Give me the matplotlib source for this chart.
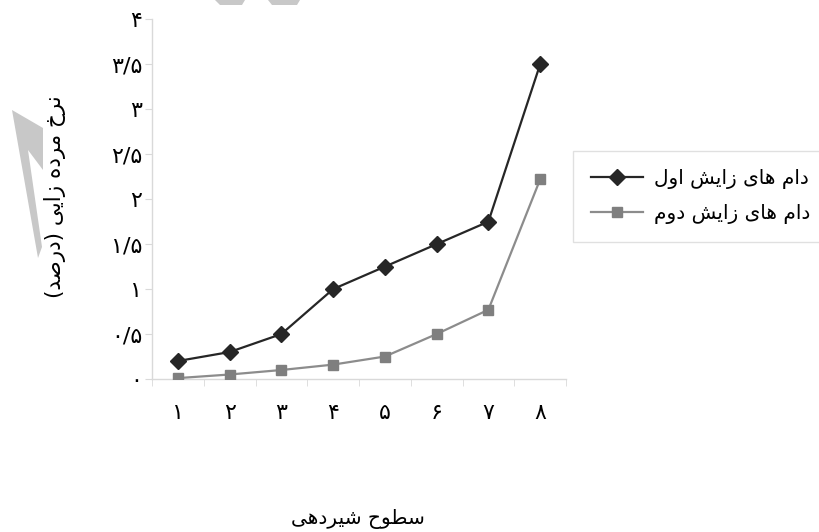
import numpy as np
import matplotlib
matplotlib.use("Agg")
import matplotlib.pyplot as plt
from matplotlib.patches import Polygon

plt.rcParams['font.family'] = ['DejaVu Sans']

# --- data ---
levels = [1, 2, 3, 4, 5, 6, 7, 8]
first_calving = [0.2, 0.3, 0.5, 1.0, 1.25, 1.5, 1.75, 3.5]
second_calving = [0.01, 0.05, 0.1, 0.16, 0.25, 0.5, 0.77, 2.22]
y_ticks = [0, 0.5, 1, 1.5, 2, 2.5, 3, 3.5, 4]

# Persian text written with presentation forms (logical order), reversed for display
label_first = "\uFEA9\uFE8D\uFEE1 \uFEEB\uFE8E\uFBFC \uFEAF\uFE8D\uFBFE\uFEB6 \uFE8D\uFEED\uFEDD"
label_second = "\uFEA9\uFE8D\uFEE1 \uFEEB\uFE8E\uFBFC \uFEAF\uFE8D\uFBFE\uFEB6 \uFEA9\uFEED\uFEE1"
y_title = "\uFEE7\uFEAE\uFEA5 \uFEE3\uFEAE\uFEA9\uFEE9 \uFEAF\uFE8D\uFBFE\uFBFD (\uFEA9\uFEAD\uFEBB\uFEAA)"
x_title = "\uFEB3\uFEC4\uFEEE\uFEA1 \uFEB7\uFBFF\uFEAE\uFEA9\uFEEB\uFBFD"

FA_DIGITS = str.maketrans("0123456789.", "۰۱۲۳۴۵۶۷۸۹/")
W, H = 819, 532


def rtl(s):
    """Reverse shaped text for right-to-left display, mirroring brackets."""
    return s[::-1].translate(str.maketrans("()", ")("))


def fa_num(v):
    return ("%g" % v).translate(FA_DIGITS)


def px(x, y):
    # pixel position (from top-left) -> figure fraction
    return (x / W, 1 - y / H)


fig = plt.figure(figsize=(W / 100, H / 100), dpi=100)
ax = fig.add_axes([152 / W, 1 - 379 / H, (566 - 152) / W, (379 - 19.4) / H])

ax.plot(levels, first_calving, color="#262626", lw=1.6, marker="D", ms=8,
        mfc="#262626", mec="#262626", label=rtl(label_first), zorder=3)
ax.plot(levels, second_calving, color="#8c8c8c", lw=1.6, marker="s", ms=7.5,
        mfc="#7f7f7f", mec="#7f7f7f", label=rtl(label_second), zorder=3)

ax.set_xlim(0.5, 8.5)
ax.set_ylim(0, 4)

axis_gray = "#d9d9d9"
for side in ["top", "right"]:
    ax.spines[side].set_visible(False)
for side in ["left", "bottom"]:
    ax.spines[side].set_color(axis_gray)
    ax.spines[side].set_linewidth(1.0)

ax.set_yticks(y_ticks)
ax.set_yticklabels([fa_num(v) for v in y_ticks], fontsize=16)
ax.tick_params(axis="y", length=5, color=axis_gray, pad=2)

ax.set_xticks(levels)
ax.set_xticklabels([fa_num(v) for v in levels], fontsize=16)
ax.set_xticks(np.arange(0.5, 9.0, 1.0), minor=True)
ax.tick_params(axis="x", which="major", length=0, pad=17)
ax.tick_params(axis="x", which="minor", length=5, color=axis_gray)

fig.text(*px(55, 197), rtl(y_title), rotation=90, fontsize=15.5,
         ha="center", va="center")
fig.text(*px(358, 519), rtl(x_title), fontsize=14.5,
         ha="center", va="center")

leg = fig.legend(loc="upper left", bbox_to_anchor=px(573, 151),
                 fontsize=14.5, frameon=True, fancybox=False, handlelength=2.6,
                 handletextpad=0.5, labelspacing=0.75, borderpad=0.9,
                 borderaxespad=0)
leg.get_frame().set_edgecolor(axis_gray)
leg.get_frame().set_linewidth(1.0)

# faint watermark shapes from the scanned source
wm = "#c8c8c8"
shapes = [
    [(12, 110), (43, 128), (43, 170), (28, 150), (42, 247), (38, 258)],
    [(215, 0), (245, 0), (242, 5), (220, 5)],
    [(268, 0), (300, 0), (297, 5), (272, 5)],
]
for shape in shapes:
    fig.patches.append(Polygon([px(x, y) for x, y in shape], closed=True,
                               transform=fig.transFigure, fc=wm, ec="none"))

fig.savefig("out.png", dpi=100)
